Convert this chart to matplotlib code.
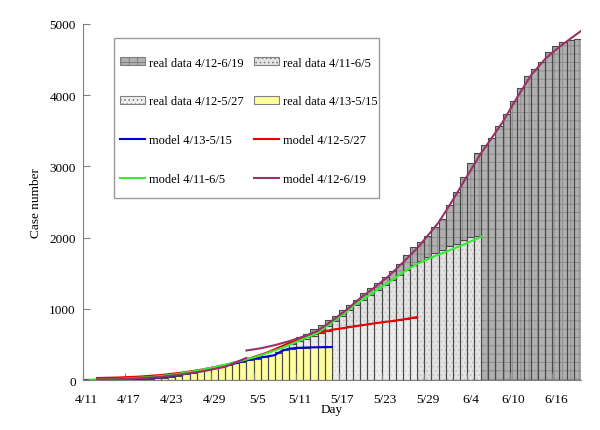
import matplotlib

matplotlib.use("Agg")
import matplotlib.pyplot as plt  # noqa: E402
from matplotlib.patches import Patch, Rectangle  # noqa: E402
from matplotlib.lines import Line2D  # noqa: E402

plt.rcParams["font.family"] = ["Liberation Serif", "DejaVu Serif"]
plt.rcParams["hatch.linewidth"] = 0.7

# day index 0 = 4/11
tick_days = [0, 6, 12, 18, 24, 30, 36, 42, 48, 54, 60, 66]
tick_labels = ["4/11", "4/17", "4/23", "4/29", "5/5", "5/11",
               "5/17", "5/23", "5/29", "6/4", "6/10", "6/16"]

# real data (cumulative cases), one value per day from the start day
real_a_start = 1   # 4/12-6/19
real_a = [12, 14, 15, 16, 17, 18, 20, 22, 26, 34, 44, 57, 74, 92, 116, 140,
          164, 182, 204, 224, 246, 269, 292, 314, 334, 357, 397, 430, 540,
          604, 650, 716, 772, 842, 899, 983, 1053, 1123, 1221, 1292, 1362,
          1446, 1530, 1629, 1755, 1867, 1938, 2022, 2148, 2260, 2457, 2640,
          2850, 3047, 3187, 3299, 3398, 3566, 3735, 3917, 4100, 4268, 4366,
          4465, 4605, 4689, 4746, 4774, 4788]
real_b_start = 0   # 4/11-6/5
real_b = [10, 12, 14, 15, 16, 17, 18, 20, 22, 26, 34, 44, 57, 74, 92, 116,
          140, 164, 182, 204, 224, 246, 269, 292, 314, 334, 357, 397, 430,
          520, 575, 610, 650, 700, 760, 830, 900, 980, 1060, 1130, 1200,
          1270, 1330, 1400, 1470, 1540, 1610, 1670, 1725, 1780, 1830, 1886,
          1910, 1966, 2004, 2027]
real_c_start = 1   # 4/12-5/27
real_c = [12, 14, 15, 16, 17, 18, 20, 22, 26, 34, 44, 57, 74, 92, 116, 140,
          164, 182, 204, 224, 246, 269, 292, 314, 334, 357, 397, 430, 500,
          545, 580, 620, 660, 690, 716, 735, 752, 768, 783, 797, 810, 823,
          835, 846, 856, 865]
real_d_start = 2   # 4/13-5/15
real_d = [2, 3, 4, 5, 6, 8, 10, 14, 22, 32, 45, 62, 80, 104, 128, 152, 170,
          192, 212, 234, 257, 280, 302, 322, 345, 385, 418, 436, 446, 452,
          458, 460, 463]

# model curves: (day, cases)
blue_days = [2, 5, 8, 11, 14, 17, 18, 20, 22, 24, 25, 26, 27, 28, 29, 31, 34]
blue_vals = [5, 12, 25, 50, 95, 150, 175, 222, 275, 318, 330, 350, 410, 440,
             450, 458, 463]
red_days = [1, 4, 7, 10, 13, 16, 19, 22, 24, 25, 28, 30, 32, 34, 36, 38, 40,
            42, 44, 46]
red_vals = [28, 35, 48, 70, 105, 150, 210, 290, 355, 389, 520, 585, 655, 705,
            735, 765, 795, 822, 850, 885]
green_days = [0, 3, 6, 9, 12, 15, 18, 21, 24, 27, 30, 32, 35, 37, 40, 42, 44,
              46, 48, 50, 52, 55]
green_vals = [3, 10, 25, 45, 80, 130, 190, 262, 345, 450, 575, 660, 880, 1040,
              1240, 1370, 1510, 1630, 1720, 1800, 1880, 2010]
purple_early_days = [1, 4, 7, 10, 13, 16, 19, 22]
purple_early_vals = [5, 12, 25, 45, 80, 125, 185, 310]
purple_days = [22, 24, 26, 28, 30, 32, 34, 36, 38, 40, 42, 44, 46, 49, 51, 53,
               55, 56, 58, 60, 62, 64, 66, 69]
purple_vals = [415, 445, 490, 545, 610, 690, 830, 980, 1150, 1300, 1460, 1650,
               1850, 2210, 2525, 2860, 3190, 3330, 3620, 3960, 4280, 4510,
               4680, 4900]

EDGE = "#4a4a4a"
LINE_X = 0.5  # model points sit on the right edge of each day's bar


def days_from(start, vals):
    return list(range(start, start + len(vals)))


fig = plt.figure(figsize=(6.0, 4.31), dpi=100)
ax = fig.add_axes([0.138, 0.116, 0.830, 0.826])

# (start, values, fill, texture colour, hatch, label)
bar_specs = [
    (real_a_start, real_a, "#b0b0b0", "#8e8e8e", "++", "real data 4/12-6/19"),
    (real_b_start, real_b, "#e4e4e4", "#c4c4c4", "....", "real data 4/11-6/5"),
    (real_c_start, real_c, "#eeeeee", "#dadada", "....", "real data 4/12-5/27"),
    (real_d_start, real_d, "#ffffa0", "#ffffa0", None, "real data 4/13-5/15"),
]
for start, vals, color, tex, hatch, _ in bar_specs:
    x = days_from(start, vals)
    ax.bar(x, vals, width=1.0, color=color, edgecolor=tex, hatch=hatch,
           linewidth=0)
    ax.bar(x, vals, width=1.0, fill=False, edgecolor=EDGE, linewidth=0.8)

lw = 1.5
ax.plot([d + LINE_X for d in blue_days], blue_vals, color="#0000dd", lw=lw)
ax.plot([d + LINE_X for d in red_days], red_vals, color="#ee0000", lw=lw)
ax.plot([d + LINE_X for d in green_days], green_vals, color="#33ee33", lw=lw)
ax.plot([d + LINE_X for d in purple_early_days], purple_early_vals,
        color="#993366", lw=lw)
ax.plot([d + LINE_X for d in purple_days], purple_vals, color="#993366", lw=lw)

ax.set_xlim(-0.5, 69.5)
ax.set_ylim(0, 5000)
ax.set_yticks([0, 1000, 2000, 3000, 4000, 5000])
ax.set_xticks([d - 0.5 for d in tick_days])
ax.set_xticklabels([""] * len(tick_days))
ax.set_xticks(tick_days, minor=True)
ax.set_xticklabels(tick_labels, minor=True)
ax.tick_params(axis="both", which="major", direction="in", length=5,
               color="#808080", labelsize=9.5)
ax.tick_params(axis="x", which="minor", length=0, labelsize=9.5, pad=9)
ax.tick_params(axis="y", pad=5)
for side in ("top", "right"):
    ax.spines[side].set_visible(False)
for side in ("left", "bottom"):
    ax.spines[side].set_color("#808080")
ax.set_xlabel("Day", fontsize=9.5, labelpad=-1)
ax.set_ylabel("Case number", fontsize=9.5, labelpad=5)

# legend frame
ax.add_patch(Rectangle((0.062, 0.511), 0.532, 0.450, transform=ax.transAxes,
                       facecolor="white", edgecolor="#999999", lw=1.0,
                       zorder=5))
h = {lab: Patch(facecolor=c, edgecolor="#808080", hatch=ht, lw=0.8)
     for _, _, c, _, ht, lab in bar_specs}
handles = [
    h["real data 4/12-6/19"], h["real data 4/12-5/27"],
    Line2D([], [], color="#0000dd", lw=lw), Line2D([], [], color="#33ee33", lw=lw),
    h["real data 4/11-6/5"], h["real data 4/13-5/15"],
    Line2D([], [], color="#ee0000", lw=lw), Line2D([], [], color="#993366", lw=lw),
]
labels = ["real data 4/12-6/19", "real data 4/12-5/27", "model 4/13-5/15",
          "model 4/11-6/5", "real data 4/11-6/5", "real data 4/13-5/15",
          "model 4/12-5/27", "model 4/12-6/19"]
leg = ax.legend(handles, labels, ncol=2, loc="upper left",
                bbox_to_anchor=(0.063, 0.926), frameon=False, borderpad=0,
                fontsize=9, labelspacing=2.14, handlelength=2.0,
                handleheight=0.55, handletextpad=0.3, columnspacing=0.8)
leg.set_zorder(6)

fig.savefig("out.png", dpi=100)
